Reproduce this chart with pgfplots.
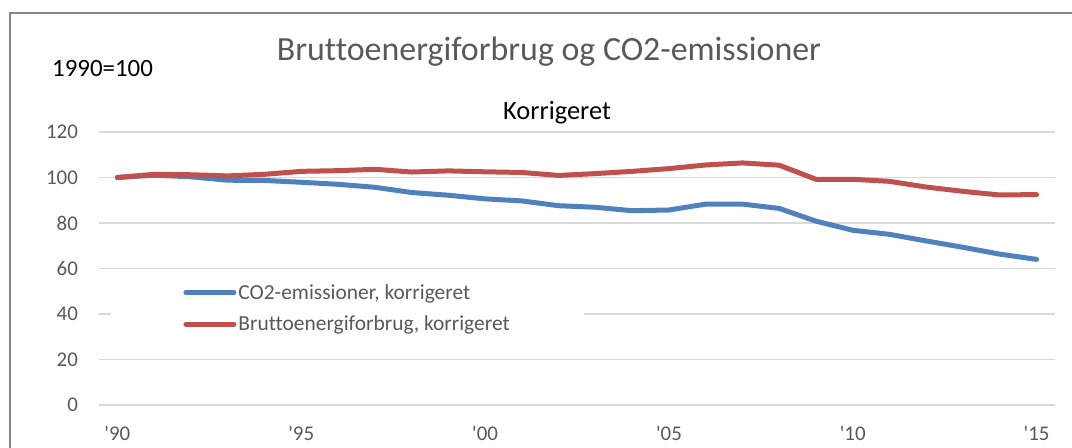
\documentclass[border=0pt]{standalone}
\usepackage{pgfplots}
\pgfplotsset{compat=1.18}
\usepackage{fontspec}
\setmainfont{Carlito}[Ligatures={TeXOff,NoCommon}]
\definecolor{cblue}{HTML}{4F81BD}
\definecolor{cred}{HTML}{C0504D}
\definecolor{ctext}{HTML}{595959}
\definecolor{cgrid}{HTML}{D9D9D9}
\definecolor{cframe}{HTML}{868686}
\begin{document}
\begin{tikzpicture}[x=1bp,y=1bp]
\useasboundingbox (0,0) rectangle (1072,448);
\draw[cframe, line width=1.5bp] (10,-20) -- (10,435) -- (1090,435);
\node[anchor=base, inner sep=0, text=ctext, font=\fontsize{34}{40}\selectfont] at (549,387) {Bruttoenergiforbrug og CO2-emissioner};
\node[anchor=base west, inner sep=0, font=\fontsize{25}{30}\selectfont] at (52,371.5) {1990=100};
\node[anchor=base, inner sep=0, font=\fontsize{26.5}{31}\selectfont] at (557,328) {Korrigeret};
\begin{axis}[
  at={(99bp,43bp)}, anchor=south west,
  scale only axis, width=956bp, height=273bp,
  xmin=1989.5, xmax=2015.5, ymin=0, ymax=120,
  xtick={1990,1995,2000,2005,2010,2015},
  xticklabels={'90,'95,'00,'05,'10,'15},
  ytick={0,20,40,60,80,100,120},
  ymajorgrids, grid style={cgrid, line width=1.5bp},
  axis line style={draw=none},
  tick align=outside, major tick length=21bp, tick style={draw=none},
  /pgf/number format/assume math mode=true,
  tick label style={text=ctext, font=\fontsize{21}{25}\selectfont},
  yticklabel style={anchor=east, inner sep=0},
  xticklabel style={anchor=north, inner sep=0},
  legend image code/.code={\draw[#1] (0bp,0bp) -- (48bp,0bp);},
  legend cell align=left,
  legend style={at={(0.26,0.354)}, anchor=center, draw=none, fill=white,
    inner xsep=72bp, inner ysep=8bp, row sep=15bp,
    font=\fontsize{21.5}{25}\selectfont, text=ctext,
    nodes={inner xsep=2bp, inner ysep=0bp}},
]
\addplot[cblue, line width=5bp, line cap=round, line join=round] coordinates {
(1990,100) (1991,101.0) (1992,100.3) (1993,98.8) (1994,98.7) (1995,97.9)
(1996,97.0) (1997,95.7) (1998,93.4) (1999,92.2) (2000,90.6) (2001,89.7)
(2002,87.6) (2003,86.9) (2004,85.4) (2005,85.7) (2006,88.3) (2007,88.3)
(2008,86.4) (2009,80.8) (2010,76.8) (2011,75.0) (2012,72.1) (2013,69.3)
(2014,66.3) (2015,64.0)};
\addlegendentry{CO2-emissioner, korrigeret}
\addplot[cred, line width=5bp, line cap=round, line join=round] coordinates {
(1990,100) (1991,101.4) (1992,101.2) (1993,100.7) (1994,101.4) (1995,102.7)
(1996,103.0) (1997,103.6) (1998,102.4) (1999,102.9) (2000,102.5) (2001,102.2)
(2002,100.9) (2003,101.7) (2004,102.7) (2005,103.9) (2006,105.5) (2007,106.4)
(2008,105.4) (2009,99.2) (2010,99.2) (2011,98.3) (2012,95.8) (2013,93.9)
(2014,92.3) (2015,92.5)};
\addlegendentry{Bruttoenergiforbrug, korrigeret}
\end{axis}
\end{tikzpicture}
\end{document}
